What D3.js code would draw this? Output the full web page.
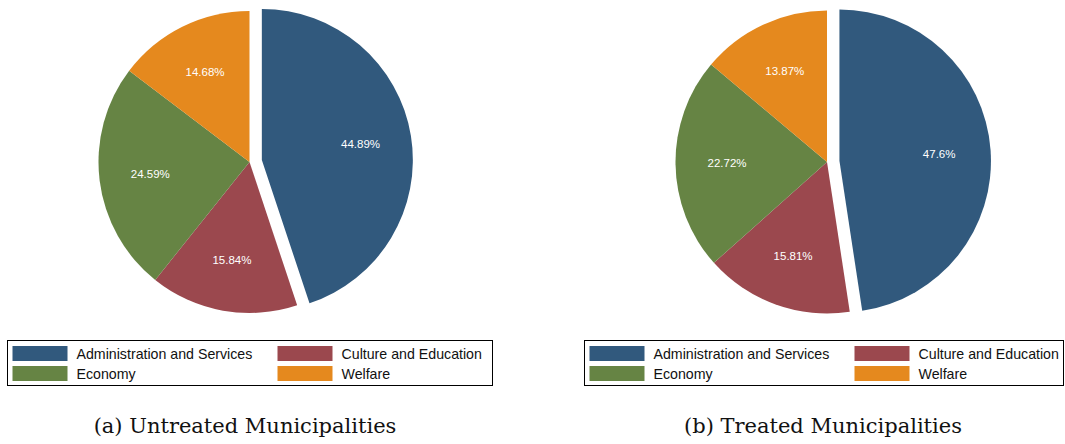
<!DOCTYPE html>
<html>
<head>
<meta charset="utf-8">
<script src="https://cdn.jsdelivr.net/npm/d3@7"></script>
<style>
  html, body { margin: 0; padding: 0; background: #fff; }
  svg { display: block; }
</style>
</head>
<body>
<svg id="chart" width="1065" height="444"></svg>
<script>
// ---- data ----
const categories = ["Administration and Services", "Culture and Education", "Economy", "Welfare"];
const untreatedValues = [44.89, 15.84, 24.59, 14.68];
const treatedValues = [47.6, 15.81, 22.72, 13.87];
const valueLabels = {
  untreated: ["44.89%", "15.84%", "24.59%", "14.68%"],
  treated: ["47.6%", "15.81%", "22.72%", "13.87%"]
};
const captions = ["(a) Untreated Municipalities", "(b) Treated Municipalities"];
const explodedCategory = "Administration and Services";

// ---- styles / layout ----
const colors = ["#31597d", "#9b484e", "#668444", "#e5891e"];
const color = d3.scaleOrdinal().domain(categories).range(colors);

const panels = [
  { values: untreatedValues, labels: valueLabels.untreated, caption: captions[0],
    cx: 249.5, cy: 162, r: 151, legendX: 7, legendW: 486, captionX: 245 },
  { values: treatedValues, labels: valueLabels.treated, caption: captions[1],
    cx: 827, cy: 162, r: 151.5, legendX: 584, legendW: 480, captionX: 823 }
];

const svg = d3.select("#chart");
const pie = d3.pie().sort(null).value(d => d.value);
const explodeOffset = 12.5;
const labelRadius = 100;

panels.forEach(p => {
  const data = categories.map((c, i) => ({ cat: c, value: p.values[i], label: p.labels[i] }));
  const arcs = pie(data);
  const arc = d3.arc().innerRadius(0).outerRadius(p.r);
  const g = svg.append("g").attr("transform", `translate(${p.cx},${p.cy})`);

  const slices = g.selectAll("g.slice").data(arcs).join("g")
    .attr("class", "slice")
    .attr("transform", d => {
      if (d.data.cat !== explodedCategory) return null;
      const mid = (d.startAngle + d.endAngle) / 2;
      return `translate(${Math.sin(mid) * explodeOffset},${-Math.cos(mid) * explodeOffset})`;
    });

  slices.append("path")
    .attr("d", arc)
    .attr("fill", d => color(d.data.cat));

  slices.append("text")
    .attr("x", d => Math.sin((d.startAngle + d.endAngle) / 2) * labelRadius)
    .attr("y", d => -Math.cos((d.startAngle + d.endAngle) / 2) * labelRadius)
    .attr("dy", "0.35em")
    .attr("text-anchor", "middle")
    .attr("fill", "#ffffff")
    .style("font-family", "'Liberation Sans', Arial, sans-serif")
    .style("font-size", "11.5px")
    .text(d => d.data.label);

  // legend
  const lg = svg.append("g").attr("transform", `translate(${p.legendX},340)`);
  lg.append("rect")
    .attr("x", 0.5).attr("y", 0.5)
    .attr("width", p.legendW - 1).attr("height", 45)
    .attr("fill", "#fff").attr("stroke", "#000").attr("stroke-width", 1);
  const colOffsets = [5.5, 270.5];
  categories.forEach((c, i) => {
    const col = i % 2, row = Math.floor(i / 2);
    const x = colOffsets[col], y = 6 + row * 20;
    lg.append("rect")
      .attr("x", x).attr("y", y).attr("width", 55).attr("height", 15)
      .attr("fill", color(c));
    lg.append("text")
      .attr("x", x + 64).attr("y", y + 12.5)
      .attr("fill", "#111")
      .style("font-family", "'Liberation Sans', Arial, sans-serif")
      .style("font-size", "14.2px")
      .text(c);
  });

  // caption
  svg.append("text")
    .attr("x", p.captionX).attr("y", 433)
    .attr("text-anchor", "middle")
    .attr("fill", "#111")
    .style("font-family", "'DejaVu Serif', 'Liberation Serif', serif")
    .style("font-size", "21px")
    .text(p.caption);
});
</script>
</body>
</html>
